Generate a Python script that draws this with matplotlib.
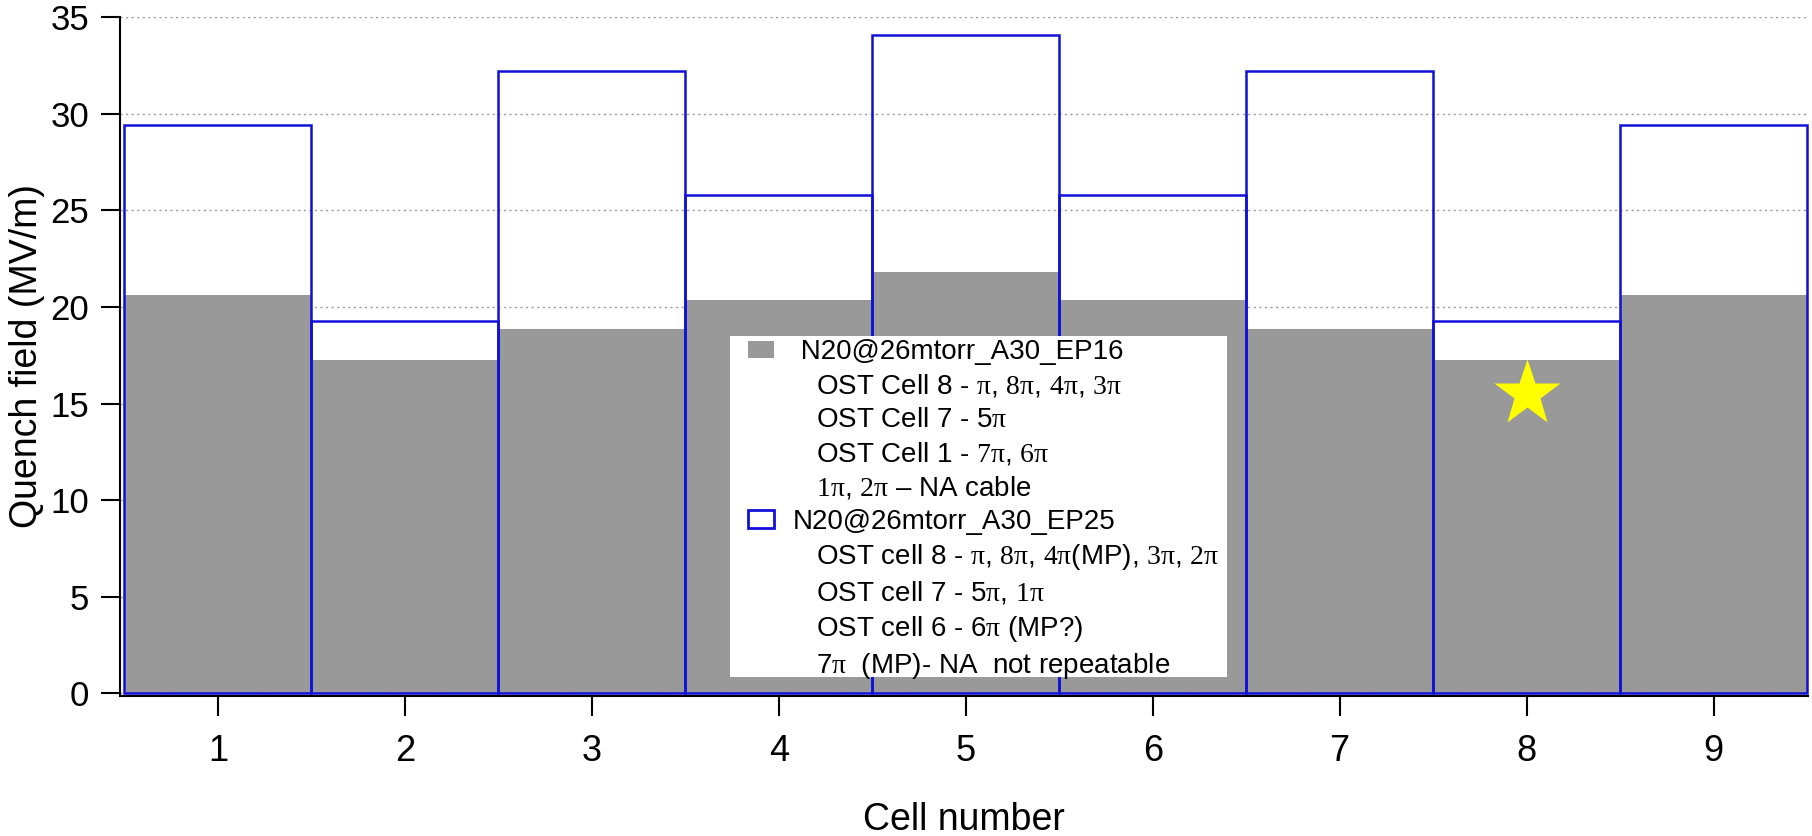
import matplotlib
matplotlib.use("Agg")
import matplotlib.pyplot as plt
from matplotlib.patches import Patch, Rectangle

plt.rcParams['font.family'] = ['Liberation Sans', 'DejaVu Sans']
plt.rcParams['mathtext.fontset'] = 'custom'
plt.rcParams['mathtext.rm'] = 'Liberation Serif'
plt.rcParams['mathtext.it'] = 'Liberation Serif'
plt.rcParams['mathtext.bf'] = 'Liberation Serif:bold'

# ---- data ----
cells = [1, 2, 3, 4, 5, 6, 7, 8, 9]
ep16 = [20.6, 17.25, 18.85, 20.35, 21.8, 20.35, 18.85, 17.25, 20.6]
ep25 = [29.4, 19.3, 32.2, 25.8, 34.1, 25.8, 32.2, 19.3, 29.4]
star_cell = [8]
star_value = [15.5]

series1_name = "N20@26mtorr_A30_EP16"
series1_notes = [
    r"OST Cell 8 - $\pi$, $8\pi$, $4\pi$, $3\pi$",
    r"OST Cell 7 - 5$\pi$",
    r"OST Cell 1 - $7\pi$, $6\pi$",
    r"$1\pi$, $2\pi$ – NA cable",
]
series2_name = "N20@26mtorr_A30_EP25"
series2_notes = [
    r"OST cell 8 - $\pi$, $8\pi$, $4\pi$(MP), $3\pi$, $2\pi$",
    r"OST cell 7 - 5$\pi$, $1\pi$",
    r"OST cell 6 - 6$\pi$ (MP?)",
    r"7$\pi$  (MP)- NA  not repeatable",
]
yticks = [0, 5, 10, 15, 20, 25, 30, 35]

grey = '#999999'
blue = '#1010d8'

fig = plt.figure(figsize=(18.12, 8.36), dpi=100)
ax = fig.add_axes([0.0662, 0.1679, 0.9316, 0.8114])

ax.bar(cells, ep16, width=1.0, color=grey, edgecolor='none', zorder=2)
ax.bar(cells, ep25, width=1.0, facecolor='none', edgecolor=blue, linewidth=1.8,
       zorder=3, clip_on=False)
ax.plot(star_cell, star_value, marker='*', markersize=50, color='#ffff00',
        markeredgecolor='none', linestyle='none', zorder=4)

ax.set_xlim(0.476, 9.505)
ax.set_ylim(-0.12, 35)
ax.set_xticks(cells)
ax.set_yticks(yticks)
ax.yaxis.grid(True, linestyle=(0, (1.5, 2.5)), color='#999999', linewidth=1.0, zorder=0)
ax.set_axisbelow(True)

for s in ['top', 'right']:
    ax.spines[s].set_visible(False)
for s in ['left', 'bottom']:
    ax.spines[s].set_linewidth(1.5)
    ax.spines[s].set_color('black')

ax.tick_params(axis='x', direction='out', length=14.5, width=1.5, pad=13, labelsize=26)
ax.tick_params(axis='y', direction='out', length=14, width=1.5, pad=8, labelsize=25)

ax.set_xlabel("Cell number", fontsize=27, labelpad=24)
ax.set_ylabel("Quench field (MV/m)", fontsize=27, labelpad=4)

# white legend panel
ax.add_patch(Rectangle((0.3614, 0.0275), 0.6560 - 0.3614, 0.5301 - 0.0275,
                       transform=ax.transAxes, facecolor='white', edgecolor='none',
                       zorder=9, clip_on=False))

invis = Patch(facecolor='none', edgecolor='none')
handles = [Patch(facecolor=grey, edgecolor='none')] + [invis] * len(series1_notes) \
    + [Patch(facecolor='white', edgecolor=blue, linewidth=2)] + [invis] * len(series2_notes)
labels = [" " + series1_name] + ["   " + t for t in series1_notes] \
    + [series2_name] + ["   " + t for t in series2_notes]

leg = ax.legend(handles, labels, loc='upper left', bbox_to_anchor=(0.372, 0.5255),
                borderaxespad=0, fontsize=20, frameon=False,
                borderpad=0, handlelength=0.95, handleheight=0.6,
                handletextpad=0.68, labelspacing=0.265)
leg.set_zorder(10)

fig.savefig("out.png", dpi=100)
